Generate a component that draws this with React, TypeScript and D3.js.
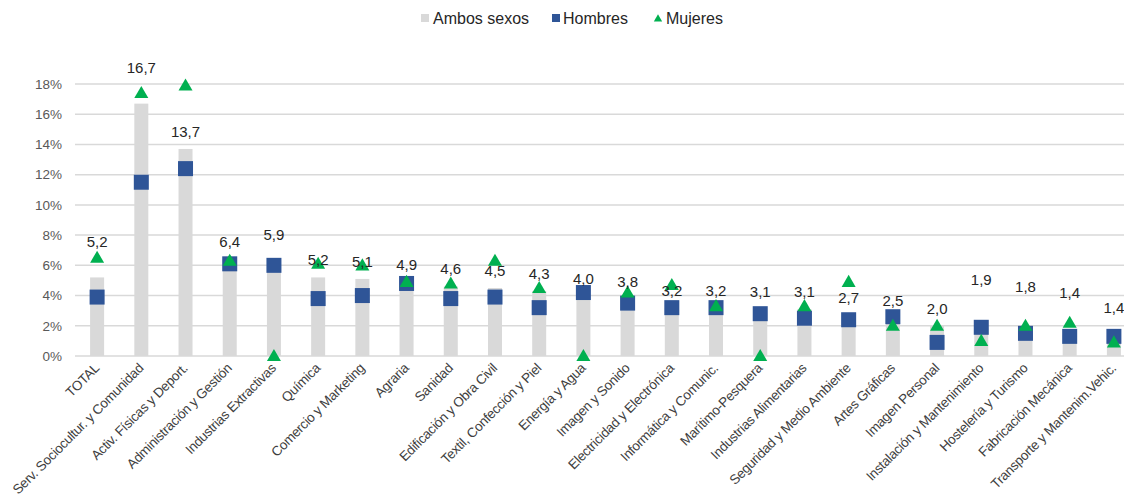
import * as d3 from 'd3';
import React, { useEffect, useRef } from 'react';

const categories = [
	'TOTAL',
	'Serv. Sociocultur. y Comunidad',
	'Activ. Físicas y Deport.',
	'Administración y Gestión',
	'Industrias Extractivas',
	'Química',
	'Comercio y Marketing',
	'Agraria',
	'Sanidad',
	'Edificación y Obra Civil',
	'Textil, Confección y Piel',
	'Energía y Agua',
	'Imagen y Sonido',
	'Electricidad y Electrónica',
	'Informática y Comunic.',
	'Marítimo-Pesquera',
	'Industrias Alimentarias',
	'Seguridad y Medio Ambiente',
	'Artes Gráficas',
	'Imagen Personal',
	'Instalación y Mantenimiento',
	'Hostelería y Turismo',
	'Fabricación Mecánica',
	'Transporte y Mantenim.Vehic.',
];

const ambosSexos = [5.2, 16.7, 13.7, 6.4, 5.9, 5.2, 5.1, 4.9, 4.6, 4.5, 4.3, 4.0, 3.8, 3.2, 3.2, 3.1, 3.1, 2.7, 2.5, 2.0, 1.9, 1.8, 1.4, 1.4];
const hombres = [3.9, 11.5, 12.4, 6.1, 6.0, 3.8, 4.0, 4.8, 3.8, 3.9, 3.2, 4.2, 3.5, 3.2, 3.2, 2.8, 2.5, 2.4, 2.6, 0.9, 1.9, 1.5, 1.3, 1.3];
const mujeres = [6.5, 17.4, 17.9, 6.3, 0.0, 6.1, 6.0, 4.9, 4.8, 6.3, 4.5, 0.0, 4.2, 4.7, 3.3, 0.0, 3.3, 4.9, 2.0, 2.0, 1.0, 2.0, 2.2, 0.9];
const yTicks = [0, 2, 4, 6, 8, 10, 12, 14, 16, 18];

// extra lift (px) for labels the markers would cover
const labelLift: Record<string, number> = {
	TOTAL: 18,
	'Serv. Sociocultur. y Comunidad': 19,
	'Industrias Extractivas': 15,
	'Instalación y Mantenimiento': 30,
	'Hostelería y Turismo': 25,
	'Fabricación Mecánica': 25,
	'Transporte y Mantenim.Vehic.': 10,
};

const W = 1124;
const H = 500;
const FONT = '"Liberation Sans", Arial, sans-serif';
const GREY = '#d9d9d9';
const BLUE = '#2f5597';
const GREEN = '#00b050';

const App = () => {
	const ref = useRef<SVGSVGElement>(null);

	useEffect(() => {
		const svg = d3.select(ref.current);
		svg.selectAll('*').remove();

		const x = d3.scaleBand().domain(categories).range([75, 1136]).padding(0);
		const y = d3.scaleLinear().domain([0, 18]).range([356, 84]);
		const cx = (c: string) => (x(c) as number) + x.bandwidth() / 2;

		// gridlines
		svg.append('g')
			.selectAll('line')
			.data(yTicks)
			.join('line')
			.attr('x1', 75)
			.attr('x2', W)
			.attr('y1', d => y(d))
			.attr('y2', d => y(d))
			.attr('stroke', GREY)
			.attr('stroke-width', 1.5);

		svg.append('g')
			.selectAll('text')
			.data(yTicks)
			.join('text')
			.attr('x', 62)
			.attr('y', d => y(d))
			.attr('dy', '0.35em')
			.attr('text-anchor', 'end')
			.attr('font-size', 13.5)
			.attr('fill', '#595959')
			.text(d => `${d}%`);

		// bars
		svg.append('g')
			.selectAll('rect')
			.data(categories)
			.join('rect')
			.attr('x', c => cx(c) - 7)
			.attr('width', 14)
			.attr('y', (c, i) => y(ambosSexos[i]))
			.attr('height', (c, i) => y(0) - y(ambosSexos[i]))
			.attr('fill', GREY);

		// hombres
		svg.append('g')
			.selectAll('rect')
			.data(categories)
			.join('rect')
			.attr('x', c => cx(c) - 7.5)
			.attr('y', (c, i) => y(hombres[i]) - 7.5)
			.attr('width', 15)
			.attr('height', 15)
			.attr('fill', BLUE);

		// mujeres
		const tri = d3.symbol(d3.symbolTriangle, 85);
		svg.append('g')
			.selectAll('path')
			.data(categories)
			.join('path')
			.attr('d', tri)
			.attr('transform', (c, i) => `translate(${cx(c)},${y(mujeres[i]) + 1})`)
			.attr('fill', GREEN);

		// data labels
		svg.append('g')
			.selectAll('text')
			.data(categories)
			.join('text')
			.attr('x', c => cx(c))
			.attr('y', (c, i) => y(ambosSexos[i]) - 12 - (labelLift[c] || 0))
			.attr('text-anchor', 'middle')
			.attr('font-size', 15)
			.attr('fill', '#262626')
			.text((c, i) => d3.format('.1f')(ambosSexos[i]).replace('.', ','));

		// category labels
		svg.append('g')
			.selectAll('text')
			.data(categories)
			.join('text')
			.attr('transform', c => `translate(${cx(c) + 3},${369}) rotate(-45)`)
			.attr('text-anchor', 'end')
			.attr('font-size', 13.5)
			.attr('letter-spacing', -0.3)
			.attr('fill', '#404040')
			.text(c => c);

		// legend
		const lg = svg.append('g').attr('font-size', 16).attr('fill', '#262626');
		lg.append('rect').attr('x', 421).attr('y', 14).attr('width', 8).attr('height', 8).attr('fill', GREY);
		lg.append('text').attr('x', 433).attr('y', 18).attr('dy', '0.35em').text('Ambos sexos');
		lg.append('rect').attr('x', 552).attr('y', 14).attr('width', 8).attr('height', 8).attr('fill', BLUE);
		lg.append('text').attr('x', 563).attr('y', 18).attr('dy', '0.35em').text('Hombres');
		lg.append('path')
			.attr('d', d3.symbol(d3.symbolTriangle, 30))
			.attr('transform', 'translate(658,19)')
			.attr('fill', GREEN);
		lg.append('text').attr('x', 666).attr('y', 18).attr('dy', '0.35em').text('Mujeres');
	}, []);

	return (
		<div style={{ position: 'absolute', left: 0, top: 0 }}>
			<svg ref={ref} width={W} height={H} style={{ display: 'block', fontFamily: FONT, background: '#fff' }} />
		</div>
	);
};

export default App;
